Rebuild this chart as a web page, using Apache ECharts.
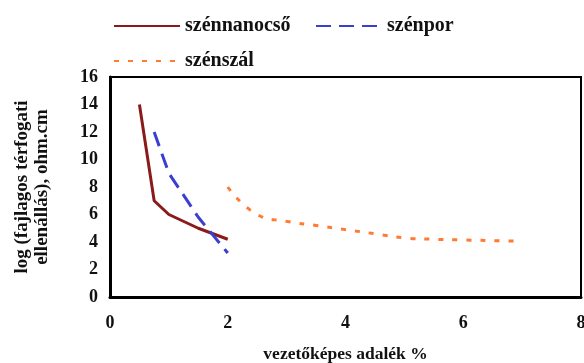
<!DOCTYPE html>
<html>
<head>
<meta charset="utf-8">
<script src="https://cdn.jsdelivr.net/npm/echarts@6/dist/echarts.min.js"></script>
<style>
  html, body { margin: 0; padding: 0; background: #fff; }
  #chart { width: 584px; height: 363px; }
</style>
</head>
<body>
<div id="chart"></div>
<script>
// adatok
const nanocsoX = [0.5, 0.75, 1, 1.5, 2]
const nanocsoY = [14, 7, 6, 5, 4.2]
const porX = [0.75, 1, 1.5, 2]
const porY = [12, 9, 5.8, 3.2]
const szalX = [2, 2.5, 3, 3.5, 4, 4.5, 5, 5.5, 6, 7]
const szalY = [8, 6, 5.5, 5.2, 4.9, 4.6, 4.3, 4.2, 4.15, 4.05]
const xTicks = [0, 2, 4, 6, 8]
const yTicks = [0, 2, 4, 6, 8, 10, 12, 14, 16]

const pairs = (xs, ys) => xs.map((x, i) => [x, ys[i]])
const font = 'Liberation Serif'
const legendText = { fontFamily: font, fontWeight: 'bold', fontSize: 20, color: '#111' }

const legendFor = (name, left, top) => ({
  data: [name], left, top,
  itemWidth: 66, itemHeight: 14, itemGap: 0,
  itemStyle: { opacity: 0 },
  textStyle: legendText
})

const chart = echarts.init(document.getElementById('chart'))
chart.setOption({
  animation: false,
  legend: [
    legendFor('szénnanocső', 108, 11),
    legendFor('szénpor', 310, 11),
    legendFor('szénszál', 108, 46)
  ],
  grid: {
    left: 110, top: 77, right: 3, bottom: 66,
    containLabel: false, outerBoundsMode: 'none',
    show: true, borderColor: '#000', borderWidth: 2
  },
  xAxis: {
    type: 'value', min: 0, max: 8, interval: 2,
    name: 'vezetőképes adalék %', nameLocation: 'middle', nameGap: 48,
    nameTextStyle: { fontFamily: font, fontWeight: 'bold', fontSize: 17.5, color: '#111' },
    axisLine: { lineStyle: { color: '#000', width: 3 } },
    axisTick: { show: false },
    splitLine: { show: false },
    axisLabel: {
      margin: 17, fontFamily: font, fontWeight: 'bold', fontSize: 18, color: '#111',
      customValues: xTicks
    }
  },
  yAxis: {
    type: 'value', min: 0, max: 16, interval: 2,
    name: 'log (fajlagos térfogati\nellenállás), ohm.cm', nameLocation: 'middle', nameGap: 58,
    nameTextStyle: { fontFamily: font, fontWeight: 'bold', fontSize: 19, color: '#111', lineHeight: 20 },
    axisLine: { show: true, lineStyle: { color: '#000', width: 3 } },
    axisTick: { show: false },
    splitLine: { show: false },
    axisLabel: {
      margin: 12, fontFamily: font, fontWeight: 'bold', fontSize: 18, color: '#111',
      customValues: yTicks
    }
  },
  series: [
    {
      name: 'szénnanocső', type: 'line', data: pairs(nanocsoX, nanocsoY),
      symbol: 'none', lineStyle: { color: '#8b1a1a', width: 3 }, itemStyle: { color: '#8b1a1a' }
    },
    {
      name: 'szénpor', type: 'line', data: pairs(porX, porY),
      symbol: 'none', lineStyle: { color: '#3a3fd0', width: 3, type: [15, 8] }, itemStyle: { color: '#3a3fd0' }
    },
    {
      name: 'szénszál', type: 'line', data: pairs(szalX, szalY), smooth: true,
      symbol: 'none', lineStyle: { color: '#ff7a33', width: 3, type: [5, 9] }, itemStyle: { color: '#ff7a33' }
    }
  ]
})
</script>
</body>
</html>
